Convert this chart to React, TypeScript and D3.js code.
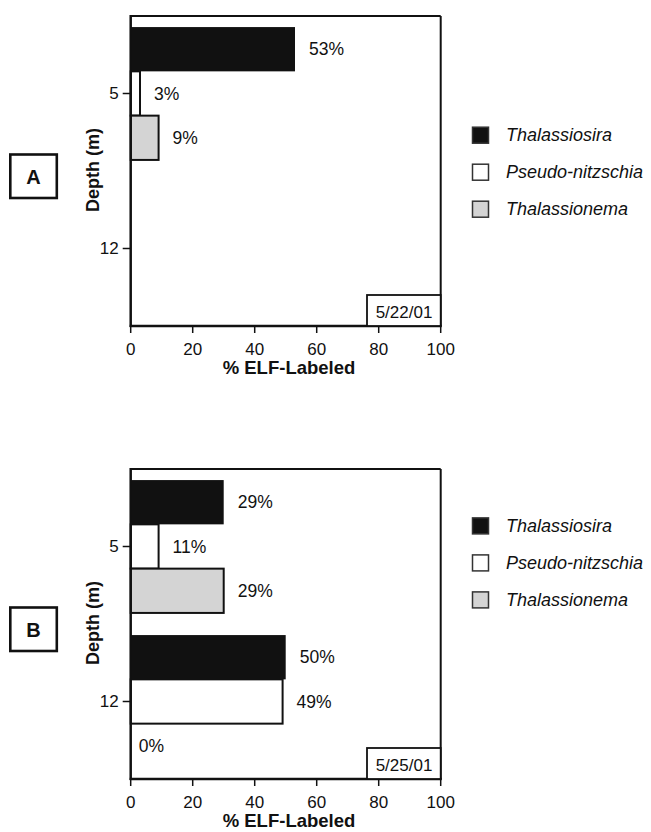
import React from "react";
import * as d3 from "d3";

const species = ["Thalassiosira", "Pseudo-nitzschia", "Thalassionema"];
const speciesFill = ["#111111", "#ffffff", "#d4d4d4"];
const depthTicks = [5, 12];
const xTicks = [0, 20, 40, 60, 80, 100];

// Panel A (5/22/01)
const aDepths = [5];
const aValues5 = [53, 3, 9];
const aLabels5 = ["53%", "3%", "9%"];

// Panel B (5/25/01)
const bDepths = [5, 12];
const bValues5 = [30, 9, 30];
const bLabels5 = ["29%", "11%", "29%"];
const bValues12 = [50, 49, 0];
const bLabels12 = ["50%", "49%", "0%"];

const panels = [
  { letter: "A", date: "5/22/01", top: 16, legendTop: 126.7, depths: aDepths, values: [aValues5], labels: [aLabels5] },
  { letter: "B", date: "5/25/01", top: 469, legendTop: 517.4, depths: bDepths, values: [bValues5, bValues12], labels: [bLabels5, bLabels12] },
];

const FONT = "'Liberation Sans', Arial, Helvetica, sans-serif";
const plotLeft = 130.7;
const plotRight = 440.7;
const plotH = 310;

function Panel({ p }: { p: any }) {
  const x = d3.scaleLinear().domain([0, 100]).range([plotLeft, plotRight]);
  const y = d3.scaleLinear().domain([1.5, 15.5]).range([p.top, p.top + plotH]);
  const bottom = p.top + plotH;
  return (
    <g>
      {p.depths.map((d: number, gi: number) =>
        p.values[gi].map((v: number, i: number) => {
          const y0 = y(d - 3 + 2 * i);
          const y1 = y(d - 1 + 2 * i);
          const w = x(v) - x(0);
          return (
            <g key={`${gi}-${i}`}>
              {v > 0 && (
                <rect
                  x={x(0)}
                  y={y0}
                  width={w}
                  height={y1 - y0}
                  fill={speciesFill[i]}
                  stroke="#111"
                  strokeWidth={i === 0 ? 0 : 2}
                />
              )}
              <text
                x={x(v) + (v === 0 ? 8 : 14)}
                y={(y0 + y1) / 2}
                dominantBaseline="central"
                fontFamily={FONT}
                fontSize={17.5}
                fill="#111"
              >
                {p.labels[gi][i]}
              </text>
            </g>
          );
        })
      )}
      <line x1={plotLeft} x2={plotRight} y1={p.top} y2={p.top} stroke="#111" strokeWidth={2} />
      <line x1={plotRight} x2={plotRight} y1={p.top} y2={bottom} stroke="#111" strokeWidth={2} />
      <line x1={plotLeft} x2={plotLeft} y1={p.top - 1} y2={bottom + 1} stroke="#111" strokeWidth={2.5} />
      <line x1={plotLeft - 1} x2={plotRight + 1} y1={bottom} y2={bottom} stroke="#111" strokeWidth={2.5} />
      {xTicks.map((t) => (
        <g key={t}>
          <line x1={x(t)} x2={x(t)} y1={bottom} y2={bottom + 7} stroke="#111" strokeWidth={1.5} />
          <text x={x(t)} y={bottom + 28.5} textAnchor="middle" fontFamily={FONT} fontSize={17} fill="#111">
            {t}
          </text>
        </g>
      ))}
      {depthTicks.map((t) => (
        <g key={t}>
          <line x1={plotLeft - 8} x2={plotLeft} y1={y(t)} y2={y(t)} stroke="#111" strokeWidth={1.5} />
          <text x={plotLeft - 12} y={y(t)} textAnchor="end" dominantBaseline="central" fontFamily={FONT} fontSize={17} fill="#111">
            {t}
          </text>
        </g>
      ))}
      <text x={289} y={bottom + 48} textAnchor="middle" fontFamily={FONT} fontWeight="bold" fontSize={18.5} fill="#111">
        % ELF-Labeled
      </text>
      <text
        transform={`translate(99,${p.top + 154}) rotate(-90)`}
        textAnchor="middle"
        fontFamily={FONT}
        fontWeight="bold"
        fontSize={18}
        fill="#111"
      >
        Depth (m)
      </text>
      <rect x={367} y={bottom - 31} width={plotRight - 367} height={31} fill="#fff" stroke="#111" strokeWidth={1.8} />
      <text x={404} y={bottom - 8} textAnchor="middle" fontFamily={FONT} fontSize={17} fill="#111">
        {p.date}
      </text>
      <rect x={10.3} y={p.top + 138.5} width={46.5} height={43.5} fill="#fff" stroke="#111" strokeWidth={2.6} />
      <text x={33.5} y={p.top + 160.5} textAnchor="middle" dominantBaseline="central" fontFamily={FONT} fontWeight="bold" fontSize={20} fill="#111">
        {p.letter}
      </text>
      {species.map((s, i) => (
        <g key={s}>
          <rect x={472.5} y={p.legendTop + i * 37 + 0.5} width={16} height={16} fill={speciesFill[i]} stroke="#333" strokeWidth={1.5} />
          <text x={506} y={p.legendTop + i * 37 + 8.5} dominantBaseline="central" fontFamily={FONT} fontStyle="italic" fontSize={18} fill="#111">
            {s}
          </text>
        </g>
      ))}
    </g>
  );
}

export default function App() {
  return (
    <svg
      width={651}
      height={832}
      viewBox="0 0 651 832"
      style={{ position: "absolute", left: 0, top: 0, background: "#fff" }}
    >
      <rect width={651} height={832} fill="#fff" />
      {panels.map((p) => (
        <Panel key={p.letter} p={p} />
      ))}
    </svg>
  );
}
